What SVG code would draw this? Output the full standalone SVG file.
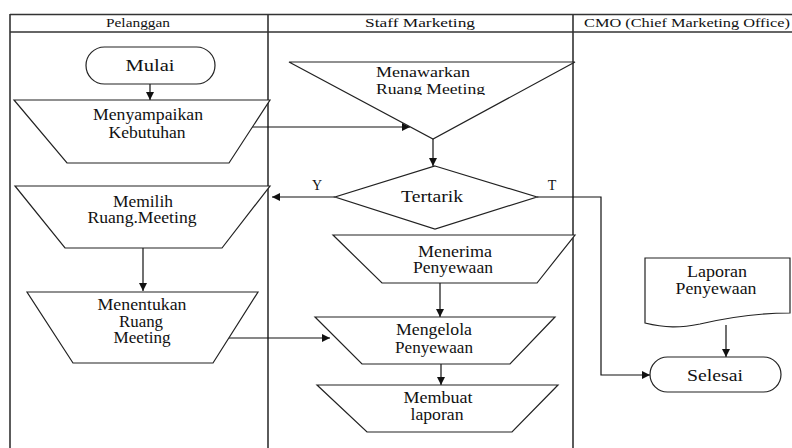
<svg xmlns="http://www.w3.org/2000/svg" width="792" height="448" viewBox="0 0 792 448" font-family="'Liberation Serif', 'DejaVu Serif', serif">
  <style>
    .lane { stroke: #333; stroke-width: 1.6; fill: none; }
    .shape { fill: #fff; stroke: #222; stroke-width: 1.2; }
    .conn { fill: none; stroke: #111; stroke-width: 1.2; }
    .t { font-family: 'Liberation Serif', 'DejaVu Serif', serif; font-size: 16px; fill: #111; text-anchor: middle; }
    .hdr { font-size: 13px; }
    .lbl { font-size: 14px; }
    .start { text-anchor: start; font-size: 15px; }
  </style>
  <defs>
    <marker id="arrow" viewBox="0 0 10 10" refX="10" refY="5" markerWidth="8" markerHeight="8" markerUnits="userSpaceOnUse" orient="auto">
      <path d="M0,0 L10,5 L0,10 Z" fill="#111"/>
    </marker>
    <clipPath id="clipOffer">
      <rect x="280" y="60" width="300" height="35"/>
    </clipPath>
  </defs>

  <rect width="792" height="448" fill="#fff"/>

  <!-- swimlanes -->
  <g id="lanes">
    <line class="lane" x1="10" y1="14.5" x2="792" y2="14.5" stroke="#666" stroke-width="2"/>
    <line class="lane" x1="10" y1="32" x2="792" y2="32"/>
    <line class="lane" x1="10" y1="14" x2="10" y2="448"/>
    <line class="lane" x1="268" y1="14" x2="268" y2="448"/>
    <line class="lane" x1="573" y1="14" x2="573" y2="448"/>
    <text class="t hdr" x="138" y="27" textLength="64" lengthAdjust="spacingAndGlyphs">Pelanggan</text>
    <text class="t hdr" x="420" y="27" textLength="110" lengthAdjust="spacingAndGlyphs">Staff Marketing</text>
    <text class="t hdr" x="687" y="27" textLength="206" lengthAdjust="spacingAndGlyphs">CMO (Chief Marketing Office)</text>
  </g>

  <!-- connectors -->
  <g id="connectors">
    <line class="conn" x1="150" y1="84" x2="150" y2="100" marker-end="url(#arrow)"/>
    <line class="conn" x1="252" y1="127" x2="410" y2="127" marker-end="url(#arrow)"/>
    <line class="conn" x1="433" y1="139" x2="433" y2="166" marker-end="url(#arrow)"/>
    <line class="conn" x1="335" y1="197" x2="272" y2="197" marker-end="url(#arrow)"/>
    <polyline class="conn" points="537,197 601,197 601,375 650,375" marker-end="url(#arrow)"/>
    <line class="conn" x1="143" y1="248" x2="143" y2="291" marker-end="url(#arrow)"/>
    <line class="conn" x1="229" y1="338" x2="330" y2="338" marker-end="url(#arrow)"/>
    <line class="conn" x1="440" y1="283" x2="440" y2="317" marker-end="url(#arrow)"/>
    <line class="conn" x1="441" y1="364" x2="441" y2="385" marker-end="url(#arrow)"/>
    <line class="conn" x1="726" y1="325" x2="726" y2="357" marker-end="url(#arrow)"/>
    <text class="t lbl" x="317" y="190">Y</text>
    <text class="t lbl" x="552" y="190">T</text>
  </g>

  <g id="mulai">
    <rect class="shape" x="86" y="47" width="129" height="37" rx="18.5"/>
    <text class="t" x="150" y="71" textLength="49" lengthAdjust="spacingAndGlyphs">Mulai</text>
  </g>

  <g id="menyampaikan">
    <polygon class="shape" points="14,100 270,100 229,163 67,163"/>
    <text class="t" x="148" y="120" textLength="110" lengthAdjust="spacingAndGlyphs">Menyampaikan</text>
    <text class="t" x="147" y="138" textLength="77" lengthAdjust="spacingAndGlyphs">Kebutuhan</text>
  </g>

  <g id="menawarkan">
    <polygon class="shape" points="289,62 575,62 433,139"/>
    <g clip-path="url(#clipOffer)">
      <text class="t start" x="376" y="77" textLength="94" lengthAdjust="spacingAndGlyphs">Menawarkan</text>
      <text class="t start" x="376" y="94" textLength="109" lengthAdjust="spacingAndGlyphs">Ruang Meeting</text>
    </g>
  </g>

  <g id="tertarik">
    <polygon class="shape" points="435,166 537,197 435,229 335,197"/>
    <text class="t" x="432" y="202" textLength="62" lengthAdjust="spacingAndGlyphs">Tertarik</text>
  </g>

  <g id="memilih">
    <polygon class="shape" points="15,186 270,186 222,248 65,248"/>
    <text class="t" x="143" y="207" textLength="60" lengthAdjust="spacingAndGlyphs">Memilih</text>
    <text class="t" x="142" y="223" textLength="109" lengthAdjust="spacingAndGlyphs">Ruang.Meeting</text>
  </g>

  <g id="menentukan">
    <polygon class="shape" points="27,292 258,292 213,363 73,363"/>
    <text class="t" x="142" y="310" textLength="89" lengthAdjust="spacingAndGlyphs">Menentukan</text>
    <text class="t" x="141" y="327" textLength="44" lengthAdjust="spacingAndGlyphs">Ruang</text>
    <text class="t" x="142" y="343" textLength="57" lengthAdjust="spacingAndGlyphs">Meeting</text>
  </g>

  <g id="menerima">
    <polygon class="shape" points="333,235 575,235 537,283 382,283"/>
    <text class="t" x="455" y="257" textLength="74" lengthAdjust="spacingAndGlyphs">Menerima</text>
    <text class="t" x="453" y="273" textLength="80" lengthAdjust="spacingAndGlyphs">Penyewaan</text>
  </g>

  <g id="mengelola">
    <polygon class="shape" points="315,317 555,317 510,364 362,364"/>
    <text class="t" x="434" y="335" textLength="76" lengthAdjust="spacingAndGlyphs">Mengelola</text>
    <text class="t" x="434" y="353" textLength="78" lengthAdjust="spacingAndGlyphs">Penyewaan</text>
  </g>

  <g id="membuat">
    <polygon class="shape" points="317,385 558,385 512,432 367,432"/>
    <text class="t" x="438" y="403" textLength="69" lengthAdjust="spacingAndGlyphs">Membuat</text>
    <text class="t" x="437" y="420" textLength="53" lengthAdjust="spacingAndGlyphs">laporan</text>
  </g>

  <g id="laporan">
    <path class="shape" d="M645,258 H790 V313 C760,313 730,317 700,324 C680,328 665,328 645,323 Z"/>
    <text class="t" x="717" y="277" textLength="60" lengthAdjust="spacingAndGlyphs">Laporan</text>
    <text class="t" x="716" y="294" textLength="81" lengthAdjust="spacingAndGlyphs">Penyewaan</text>
  </g>

  <g id="selesai">
    <rect class="shape" x="650" y="357" width="131" height="35" rx="17.5"/>
    <text class="t" x="715" y="381" textLength="56" lengthAdjust="spacingAndGlyphs">Selesai</text>
  </g>
</svg>
